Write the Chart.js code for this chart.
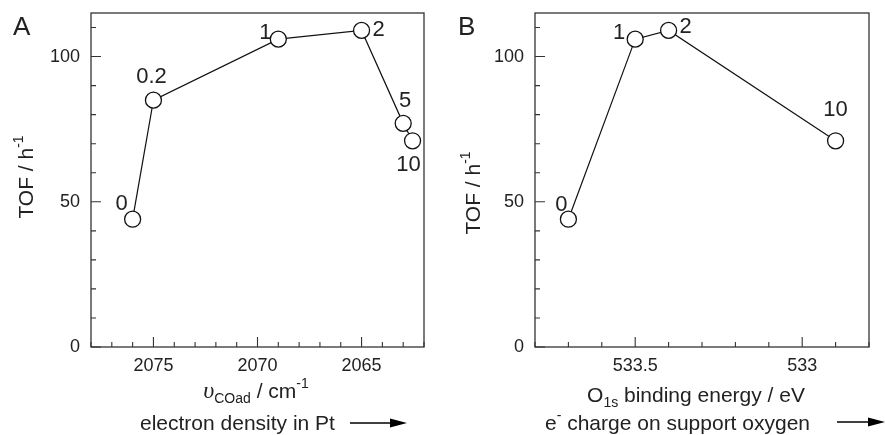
<!DOCTYPE html>
<html>
<head>
<meta charset="utf-8">
<script src="https://cdn.jsdelivr.net/npm/chart.js@4.4.1/dist/chart.umd.min.js"></script>
<style>
  body { margin: 0; background: #fff; }
  .panel { position: absolute; top: 0; }
</style>
</head>
<body>
<div class="panel" style="left:0"><canvas id="chartA" width="443" height="435"></canvas></div>
<div class="panel" style="left:443px"><canvas id="chartB" width="442" height="435"></canvas></div>
<script>
// Panel A: TOF vs CO stretching frequency
const loadingsA = ['0', '0.2', '1', '2', '5', '10'];
const wavenumberA = [2076, 2075, 2069, 2065, 2063, 2062.55];
const tofA = [44, 85, 106, 109, 77, 71];

// Panel B: TOF vs O1s binding energy
const loadingsB = ['0', '1', '2', '10'];
const bindingB = [533.7, 533.5, 533.4, 532.9];
const tofB = [44, 106, 109, 71];

const yTickLabels = [0, 50, 100];
const xTickLabelsA = [2075, 2070, 2065];
const xTickLabelsB = [533.5, 533];

const SANS = '"Liberation Sans", Arial, sans-serif';
const INK = '#222';
Chart.defaults.font.family = SANS;
Chart.defaults.color = INK;

// draw text made of pieces (sub/superscripts) on one baseline
function drawParts(ctx, parts, x, y, align) {
    let w = 0;
    parts.forEach(p => { ctx.font = p.font; w += ctx.measureText(p.t).width; });
    let cx = align === 'center' ? x - w / 2 : x;
    ctx.textAlign = 'left';
    ctx.textBaseline = 'alphabetic';
    parts.forEach(p => {
        ctx.font = p.font;
        ctx.fillText(p.t, cx, y + (p.dy || 0));
        cx += ctx.measureText(p.t).width;
    });
}

const big = '21px ' + SANS;
const small = '14px ' + SANS;
const tofTitle = [{ t: 'TOF / h', font: big }, { t: '-1', font: small, dy: -10 }];

const decorations = {
    id: 'decorations',
    afterDraw(chart, args, o) {
        const ctx = chart.ctx;
        const a = chart.chartArea;
        const xs = chart.scales.x, ys = chart.scales.y;
        ctx.save();
        ctx.strokeStyle = '#333';
        ctx.lineWidth = 1.3;
        ctx.strokeRect(a.left, a.top, a.right - a.left, a.bottom - a.top);

        // inward ticks
        ctx.lineWidth = 1.1;
        ctx.beginPath();
        xs.ticks.forEach(t => {
            const px = xs.getPixelForValue(t.value);
            const len = t.label !== '' ? 10 : 5;
            ctx.moveTo(px, a.bottom);
            ctx.lineTo(px, a.bottom - len);
        });
        ys.ticks.forEach(t => {
            const py = ys.getPixelForValue(t.value);
            const len = t.label !== '' ? 10 : 5;
            ctx.moveTo(a.left, py);
            ctx.lineTo(a.left + len, py);
        });
        ctx.stroke();

        ctx.fillStyle = INK;
        // panel letter
        ctx.font = '26px ' + SANS;
        ctx.textAlign = 'left';
        ctx.textBaseline = 'alphabetic';
        ctx.fillText(o.letter, o.letterX, 35);

        // y title
        ctx.save();
        ctx.translate(o.yTitle[0], o.yTitle[1]);
        ctx.rotate(-Math.PI / 2);
        drawParts(ctx, tofTitle, 0, 0, 'center');
        ctx.restore();

        drawParts(ctx, o.xTitle, o.xTitlePos[0], o.xTitlePos[1], 'center');
        drawParts(ctx, o.note, o.notePos[0], o.notePos[1], 'left');

        // arrow
        ctx.strokeStyle = '#000';
        ctx.fillStyle = '#000';
        ctx.lineWidth = 1.3;
        ctx.beginPath();
        ctx.moveTo(o.arrow[0], o.arrow[2]);
        ctx.lineTo(o.arrow[1] - 12, o.arrow[2]);
        ctx.stroke();
        ctx.beginPath();
        ctx.moveTo(o.arrow[1], o.arrow[2]);
        ctx.lineTo(o.arrow[1] - 17, o.arrow[2] - 4.5);
        ctx.lineTo(o.arrow[1] - 17, o.arrow[2] + 4.5);
        ctx.closePath();
        ctx.fill();

        // point labels (Pt loading)
        ctx.fillStyle = INK;
        ctx.font = '22px ' + SANS;
        ctx.textAlign = 'center';
        ctx.textBaseline = 'middle';
        chart.getDatasetMeta(0).data.forEach((pt, i) => {
            const off = o.offsets[i];
            ctx.fillText(o.labels[i], pt.x + off[0], pt.y + off[1] + 1);
        });
        ctx.restore();
    }
};

function noPad(s) {
    s.paddingTop = 0; s.paddingBottom = 0; s.paddingLeft = 0; s.paddingRight = 0;
}

function makePanel(id, xs, ys, xMin, xMax, xStep, xLabels, yAxisWidth, padRight, deco) {
    return new Chart(document.getElementById(id), {
        type: 'scatter',
        data: {
            datasets: [{
                data: xs.map((x, i) => ({ x: x, y: ys[i] })),
                showLine: true,
                borderColor: '#111',
                borderWidth: 1.2,
                pointRadius: 8,
                pointBackgroundColor: '#fff',
                pointBorderColor: '#111',
                pointBorderWidth: 1.3,
                clip: false
            }]
        },
        options: {
            responsive: false,
            animation: false,
            layout: { padding: { left: 0, top: 13, right: padRight, bottom: 0 } },
            plugins: { legend: { display: false }, tooltip: { enabled: false }, decorations: deco },
            scales: {
                x: {
                    type: 'linear',
                    reverse: true,
                    min: xMin,
                    max: xMax,
                    grid: { display: false, drawTicks: false },
                    border: { display: false },
                    afterFit: s => { s.height = 88; noPad(s); },
                    ticks: {
                        stepSize: xStep,
                        autoSkip: false,
                        maxRotation: 0,
                        minRotation: 0,
                        includeBounds: false,
                        padding: 8,
                        font: { size: 18 },
                        callback: v => {
                            const hit = xLabels.find(l => Math.abs(l - v) < xStep / 10);
                            return hit !== undefined ? String(hit) : '';
                        }
                    }
                },
                y: {
                    min: 0,
                    max: 115,
                    grid: { display: false, drawTicks: false },
                    border: { display: false },
                    afterFit: s => { s.width = yAxisWidth; noPad(s); },
                    ticks: {
                        stepSize: 10,
                        includeBounds: false,
                        padding: 11,
                        font: { size: 18 },
                        callback: v => yTickLabels.includes(v) ? String(v) : ''
                    }
                }
            }
        },
        plugins: [decorations]
    });
}

makePanel('chartA', wavenumberA, tofA, 2062, 2078, 1, xTickLabelsA, 91, 19, {
    letter: 'A', letterX: 13,
    yTitle: [33, 177],
    xTitle: [
        { t: 'υ', font: 'italic 24px "Liberation Serif", serif' },
        { t: 'COad', font: small, dy: 5 },
        { t: ' / cm', font: big },
        { t: '-1', font: small, dy: -10 }
    ],
    xTitlePos: [256, 398],
    note: [{ t: 'electron density in Pt', font: big }],
    notePos: [140, 430],
    arrow: [350, 407, 423],
    labels: loadingsA,
    offsets: [[-11, -16], [-2, -24], [-13, -7], [17, -1], [2, -23], [-4, 23]]
});

makePanel('chartB', bindingB, tofB, 532.8, 533.8, 0.1, xTickLabelsB, 92, 16, {
    letter: 'B', letterX: 15,
    yTitle: [37, 193],
    xTitle: [
        { t: 'O', font: big },
        { t: '1s', font: small, dy: 5 },
        { t: ' binding energy / eV', font: big }
    ],
    xTitlePos: [253, 402],
    note: [
        { t: 'e', font: big },
        { t: '-', font: small, dy: -10 },
        { t: ' charge on support oxygen', font: big }
    ],
    notePos: [102, 430],
    arrow: [394, 442, 422],
    labels: loadingsB,
    offsets: [[-7, -15], [-16, -7], [17, -4], [0, -32]]
});
</script>
</body>
</html>
